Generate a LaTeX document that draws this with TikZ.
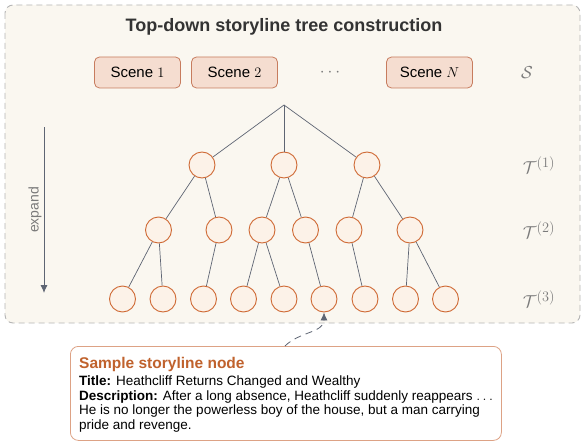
\documentclass[tikz,border=0pt]{standalone}
\usepackage{fontspec}
\setmainfont{Liberation Sans}
\usetikzlibrary{arrows.meta}
\definecolor{bgfill}{HTML}{FAF7F0}
\definecolor{bgline}{HTML}{B4B4B4}
\definecolor{scfill}{HTML}{F5DDD0}
\definecolor{scline}{HTML}{C77C5E}
\definecolor{ndline}{HTML}{CF6A35}
\definecolor{ndfill}{HTML}{FCF2E8}
\definecolor{edgec}{HTML}{5E6573}
\definecolor{labc}{HTML}{7A7A7A}
\definecolor{titc}{HTML}{333333}
\definecolor{smline}{HTML}{DDA285}
\definecolor{smtit}{HTML}{C0622D}
\tikzset{
  outerbox/.style={draw=bgline, fill=bgfill, dash pattern=on 6pt off 4pt, line width=0.9pt, rounded corners=8pt},
  scenebox/.style={draw=scline, fill=scfill, rounded corners=5pt, minimum width=86pt, minimum height=31pt, inner sep=0pt, line width=0.8pt, font=\fontsize{15}{18}\selectfont, text=black},
  tnode/.style={circle, draw=ndline, fill=ndfill, minimum size=26pt, inner sep=0pt, line width=0.9pt},
  tedge/.style={draw=edgec, line width=0.7pt},
  levlab/.style={text=labc, font=\fontsize{19}{22}\selectfont},
  samplebox/.style={draw=smline, fill=white, rounded corners=8pt, line width=0.8pt, minimum width=431pt, minimum height=94pt, inner sep=0pt}
}
\begin{document}
\begin{tikzpicture}[x=1pt,y=1pt]
\useasboundingbox (0,0) rectangle (583,-441);
\draw[outerbox] (5,-5) rectangle (580,-323);
\node[font=\fontsize{18}{21}\selectfont\bfseries, text=titc] (title) at (284,-27) {Top-down storyline tree construction};
\node[scenebox] (s1) at (137.5,-72.5) {Scene $1$};
\node[scenebox] (s2) at (234.5,-72.5) {Scene $2$};
\node[text=labc, font=\fontsize{16}{18}\selectfont] (dots) at (330,-72.5) {$\cdots$};
\node[scenebox] (sN) at (429.5,-72.5) {Scene $N$};
\node[levlab] (S) at (527,-73) {$\mathcal{S}$};
\coordinate (root) at (284,-105);
% level 1
\node[tnode] (a1) at (202,-165) {};
\node[tnode] (a2) at (284,-165) {};
\node[tnode] (a3) at (367,-165) {};
% level 2
\node[tnode] (b1) at (158.5,-230) {};
\node[tnode] (b2) at (219,-230) {};
\node[tnode] (b3) at (262,-230) {};
\node[tnode] (b4) at (305.5,-230) {};
\node[tnode] (b5) at (349,-230) {};
\node[tnode] (b6) at (410,-230) {};
% level 3
\node[tnode] (c1) at (122.5,-299) {};
\node[tnode] (c2) at (163,-299) {};
\node[tnode] (c3) at (203.5,-299) {};
\node[tnode] (c4) at (243.5,-299) {};
\node[tnode] (c5) at (284,-299) {};
\node[tnode] (c6) at (324,-299) {};
\node[tnode] (c7) at (365,-299) {};
\node[tnode] (c8) at (405.5,-299) {};
\node[tnode] (c9) at (445.5,-299) {};
% edges
\draw[tedge] (root) -- (a1);
\draw[tedge] (root) -- (a2);
\draw[tedge] (root) -- (a3);
\draw[tedge] (a1) -- (b1);
\draw[tedge] (a1) -- (b2);
\draw[tedge] (a2) -- (b3);
\draw[tedge] (a2) -- (b4);
\draw[tedge] (a3) -- (b5);
\draw[tedge] (a3) -- (b6);
\draw[tedge] (b1) -- (c1);
\draw[tedge] (b1) -- (c2);
\draw[tedge] (b2) -- (c3);
\draw[tedge] (b3) -- (c4);
\draw[tedge] (b3) -- (c5);
\draw[tedge] (b4) -- (c6);
\draw[tedge] (b5) -- (c7);
\draw[tedge] (b6) -- (c8);
\draw[tedge] (b6) -- (c9);
% level labels
\node[levlab] (t1) at (539,-165) {$\mathcal{T}^{(1)}$};
\node[levlab] (t2) at (539,-230) {$\mathcal{T}^{(2)}$};
\node[levlab] (t3) at (539,-299) {$\mathcal{T}^{(3)}$};
% expand arrow
\coordinate (ex0) at (44,-127);
\coordinate (ex1) at (44,-293);
\draw[draw=edgec, line width=0.9pt, -{Latex[length=8pt,width=7pt]}] (ex0) -- (ex1);
\node[rotate=90, text=labc, font=\fontsize{14}{16}\selectfont] (expl) at (35,-210) {expand};
% sample box
\node[samplebox, anchor=north west] (sample) at (70,-346) {};
\node[anchor=north west, align=left, inner sep=0pt, font=\fontsize{13.5}{14.5}\selectfont] (stext) at (79,-357)
  {{\fontsize{15.5}{17}\selectfont\bfseries\color{smtit}Sample storyline node}\\[3pt]
   \textbf{Title:} Heathcliff Returns Changed and Wealthy\\
   \textbf{Description:} After a long absence, Heathcliff suddenly reappears $\ldots$\\
   He is no longer the powerless boy of the house, but a man carrying\\
   pride and revenge.};
\draw[draw=edgec, line width=0.8pt, dash pattern=on 7pt off 5pt, -{Latex[length=8pt,width=7pt]}]
  (sample.north west) ++(215,0) coordinate (sa) (sa) to[out=45,in=-90] (c6.south);
\end{tikzpicture}
\end{document}
